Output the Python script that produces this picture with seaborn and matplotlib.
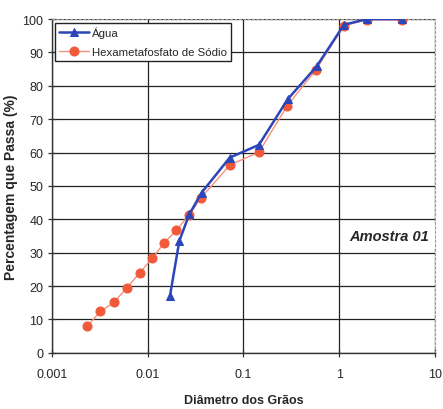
import matplotlib
matplotlib.use("Agg")
import matplotlib.pyplot as plt
import seaborn as sns
import pandas as pd
import numpy as np

# Data
agua_x = [0.0171, 0.0214, 0.0272, 0.0366, 0.072, 0.145, 0.29, 0.58, 1.12, 1.94, 4.5]
agua_y = [17.0, 33.5, 41.5, 48.0, 58.5, 62.3, 76.0, 85.8, 98.3, 100.0, 100.0]
hexa_x = [0.00234, 0.00322, 0.00448, 0.00607, 0.0083, 0.0112, 0.0148, 0.0200,
          0.0272, 0.0362, 0.0723, 0.145, 0.286, 0.571, 1.12, 1.94, 4.5]
hexa_y = [8.0, 12.4, 15.2, 19.5, 24.0, 28.4, 32.8, 36.8,
          41.3, 46.5, 56.3, 60.1, 74.0, 84.8, 98.0, 99.8, 99.8]
xticks = [0.001, 0.01, 0.1, 1, 10]
xticklabels = ["0.001", "0.01", "0.1", "1", "10"]
yticks = list(range(0, 101, 10))

sns.set_theme(style="white")
plt.rcParams['font.family'] = ['Liberation Sans', 'DejaVu Sans']

fig = plt.figure(figsize=(4.43, 4.10), dpi=100)
ax = fig.add_axes([0.117, 0.137, 0.865, 0.814])

df_a = pd.DataFrame({"x": agua_x, "y": agua_y})
df_h = pd.DataFrame({"x": hexa_x, "y": hexa_y})

sns.lineplot(data=df_h, x="x", y="y", ax=ax, color="#f8907a", lw=1.0,
             marker="o", markersize=6.5, markerfacecolor="#f05a3a",
             markeredgecolor="#f05a3a", label="Hexametafosfato de Sódio", zorder=3)
sns.lineplot(data=df_a, x="x", y="y", ax=ax, color="#2b46b8", lw=1.8,
             marker="^", markersize=6, markerfacecolor="#2b46b8",
             markeredgecolor="#2b46b8", label="Água", zorder=4)

ax.set_xscale("log")
ax.set_xlim(0.001, 10)
ax.set_ylim(0, 100)
ax.set_xticks(xticks)
ax.set_xticklabels(xticklabels)
ax.set_yticks(yticks)
ax.minorticks_off()
ax.grid(True, color="#222222", lw=0.9)
ax.set_axisbelow(True)

for s in ["top", "right"]:
    ax.spines[s].set_color("#999999")
    ax.spines[s].set_linestyle((0, (2, 2)))
    ax.spines[s].set_linewidth(0.8)
for s in ["left", "bottom"]:
    ax.spines[s].set_color("#333333")
    ax.spines[s].set_linewidth(1.0)

ax.tick_params(axis="both", direction="inout", length=6, width=0.9, color="#333333",
               labelsize=9, pad=3, left=True, bottom=True)
ax.tick_params(axis="x", pad=8)

ax.set_xlabel("Diâmetro dos Grãos", fontsize=9, fontweight="bold", labelpad=10)
ax.set_ylabel("Percentagem que Passa (%)", fontsize=10, fontweight="bold", labelpad=3)

handles, labels = ax.get_legend_handles_labels()
order = [1, 0]
leg = ax.legend([handles[i] for i in order], [labels[i] for i in order],
                loc="upper left", bbox_to_anchor=(0.0, 1.0), fontsize=8.2,
                frameon=True, fancybox=False, edgecolor="#222222",
                borderaxespad=0.3, handlelength=2.6, labelspacing=0.75,
                borderpad=0.35, handletextpad=0.25)
leg.get_frame().set_linewidth(1.0)
leg.get_frame().set_alpha(1)

ax.text(0.985, 0.35, "Amostra 01", transform=ax.transAxes, ha="right", va="center",
        fontsize=10.5, fontweight="bold", fontstyle="italic",
        bbox=dict(facecolor="white", edgecolor="none", pad=4), zorder=5)

fig.savefig("out.png", dpi=100)
